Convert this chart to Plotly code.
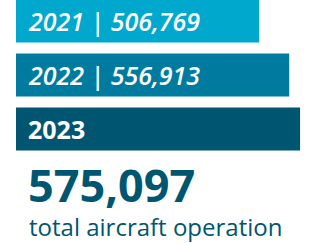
import plotly.graph_objects as go

years = ["2021", "2022", "2023"]
operations = [506769, 556913, 575097]
bar_labels = ["<i>2021 | 506,769</i>", "<i>2022 | 556,913</i>", "<b>2023</b>"]
colors = ["#00A8CE", "#007BA0", "#005670"]
total_value = "575,097"
total_caption = "total aircraft operation"

ypos = list(range(len(years)))

fig = go.Figure(go.Bar(
    x=operations, y=ypos, orientation="h",
    marker=dict(color=colors, line=dict(width=0)),
    width=0.8,
    hoverinfo="skip",
))

for i, lab in enumerate(bar_labels):
    fig.add_annotation(
        x=0, xref="paper", y=ypos[i], yref="y",
        text=lab, showarrow=False, xanchor="left", yanchor="middle",
        xshift=10,
        font=dict(family="Open Sans", size=25, color="white", weight=600),
    )

fig.add_annotation(
    x=0, xref="paper", y=3.03, yref="y", text="<b>" + total_value + "</b>",
    showarrow=False, xanchor="left", yanchor="middle", xshift=10,
    font=dict(family="Open Sans", size=45, color="#005670", weight=800),
)
fig.add_annotation(
    x=0, xref="paper", y=3.80, yref="y", text=total_caption,
    showarrow=False, xanchor="left", yanchor="middle", xshift=11,
    font=dict(family="Open Sans", size=24, color="#005670"),
)

fig.update_layout(
    width=309, height=243,
    margin=dict(l=16, r=0, t=0, b=0),
    paper_bgcolor="white", plot_bgcolor="white",
    showlegend=False,
    xaxis=dict(range=[100000, 590000], visible=False, fixedrange=True),
    yaxis=dict(range=[4.111, -0.389], visible=False, fixedrange=True),
)

fig.write_html("out.html", config={"displayModeBar": False},
               post_script="document.body.style.margin='0px';")
